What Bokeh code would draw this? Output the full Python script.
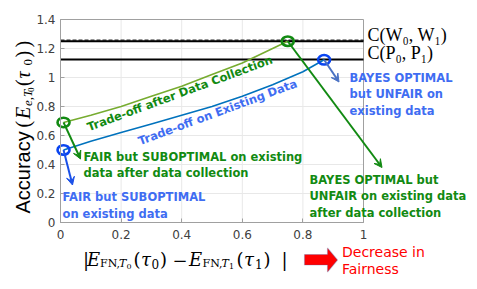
import math
from bokeh.plotting import figure
from bokeh.models import (Range1d, FixedTicker, Label, Arrow, VeeHead, PolyAnnotation)
from bokeh.embed import file_html
from bokeh.resources import INLINE

# ---- data ----
blue_x = [0.01, 0.1, 0.2, 0.3, 0.4, 0.5, 0.6, 0.7, 0.8, 0.87]
blue_y = [0.50, 0.56, 0.62, 0.68, 0.74, 0.80, 0.87, 0.95, 1.04, 1.122]
green_x = [0.01, 0.1, 0.2, 0.3, 0.4, 0.5, 0.6, 0.7, 0.75]
green_y = [0.69, 0.74, 0.80, 0.87, 0.94, 1.02, 1.10, 1.20, 1.25]
c_w = 1.25     # C(W0,W1)
c_p = 1.125    # C(P0,P1)
x_lim = [0, 1]
y_lim = [0, 1.4]
x_ticks = [0, 0.2, 0.4, 0.6, 0.8, 1]
y_ticks = [0, 0.2, 0.4, 0.6, 0.8, 1, 1.2, 1.4]

GREEN_LINE = "#77AC30"
BLUE_LINE = "#0072BD"
GREEN = "#128a12"
BLUE_TXT = "#3f6df2"
BLUE_MK = "#0a45f0"
GRID = "#e8e8e8"
BOX = "#a0a0a0"
SANS = "DejaVu Sans"
SERIF = "DejaVu Serif"
LSERIF = "Liberation Serif"

W, H = 470, 285
# frame covers the whole canvas; plot box sits at px 60..363 x 18..222
X0, XS = 60.0, 303.0
Y0, YS = 222.0, 145.0


def dx(px):
    return (px - X0) / XS


def dy(py):
    return (Y0 - py) / YS


p = figure(width=W, height=H, output_backend="svg", toolbar_location=None,
           x_range=Range1d(dx(0), dx(W)), y_range=Range1d(dy(H), dy(0)),
           min_border=0, min_border_left=0, min_border_right=0,
           min_border_top=0, min_border_bottom=0)
p.background_fill_color = "white"
p.border_fill_color = "white"
p.outline_line_color = None
p.xgrid.grid_line_color = None
p.ygrid.grid_line_color = None

# grid lines inside the box
p.segment(x0=x_ticks[1:-1], y0=[y_lim[0]] * (len(x_ticks) - 2),
          x1=x_ticks[1:-1], y1=[y_lim[1]] * (len(x_ticks) - 2),
          line_color=GRID, line_width=1)
p.segment(x0=[x_lim[0]] * (len(y_ticks) - 2), y0=y_ticks[1:-1],
          x1=[x_lim[1]] * (len(y_ticks) - 2), y1=y_ticks[1:-1],
          line_color=GRID, line_width=1)
# box
p.quad(left=[x_lim[0]], right=[x_lim[1]], bottom=[y_lim[0]], top=[y_lim[1]],
       fill_color=None, line_color=BOX, line_width=1)

for ax, ticks, lim in ((p.xaxis[0], x_ticks, x_lim), (p.yaxis[0], y_ticks, y_lim)):
    ax.fixed_location = 0
    ax.bounds = tuple(lim)
    ax.ticker = FixedTicker(ticks=ticks)
    ax.major_label_overrides = {0: "0", 1: "1"}
    ax.major_label_text_font = SANS
    ax.major_label_text_font_size = "12px"
    ax.major_label_text_color = "#404040"
    ax.axis_line_color = BOX
    ax.major_tick_line_color = BOX
    ax.major_tick_in = 4
    ax.major_tick_out = 0
    ax.minor_tick_line_color = None
p.xaxis[0].major_label_standoff = 7
p.yaxis[0].major_label_standoff = 5

# horizontal reference lines (within the box)
p.line(x_lim, [c_w, c_w], line_color="black", line_width=2)
p.line(x_lim, [c_w + 0.008, c_w + 0.008], line_color="black", line_width=1,
       line_dash="4 2")
p.line(x_lim, [c_p, c_p], line_color="black", line_width=2)

# curves
p.line(green_x, green_y, line_color=GREEN_LINE, line_width=1.6)
p.line(blue_x, blue_y, line_color=BLUE_LINE, line_width=1.6)


def arrow(x0, y0, px1, py1, color, w=2, size=8):
    p.add_layout(Arrow(x_start=x0, y_start=y0, x_end=dx(px1), y_end=dy(py1),
                       line_color=color, line_width=w,
                       end=VeeHead(size=size, fill_color=color, line_color=color)))


arrow(green_x[0], green_y[0], 80, 158.5, GREEN)
arrow(blue_x[0], blue_y[0], 72, 184.5, "#1a50e8")
arrow(blue_x[-1], blue_y[-1], 338.5, 81.5, "#4a72c4")
arrow(green_x[-1], green_y[-1], 381.5, 167, GREEN)

# hollow (horizontally stretched) circles
p.ellipse([green_x[0], green_x[-1]], [green_y[0], green_y[-1]], width=12, height=9.5,
          width_units="screen", height_units="screen",
          fill_color=None, line_color=GREEN, line_width=2.6)
p.ellipse([blue_x[0], blue_x[-1]], [blue_y[0], blue_y[-1]], width=12, height=9.5,
          width_units="screen", height_units="screen",
          fill_color=None, line_color=BLUE_MK, line_width=2.6)


def lab(px, py, text, color="black", size=11.5, font=SANS, style="bold",
        angle=0.0, align="left", baseline="middle"):
    p.add_layout(Label(x=dx(px), y=dy(py), text=text, text_color=color,
                       text_font=font, text_font_size=f"{size}px",
                       text_font_style=style, angle=angle, text_align=align,
                       text_baseline=baseline))


ang = math.radians(20.3)
lab(87, 127, "Trade-off after Data Collection", GREEN, angle=ang, baseline="alphabetic")
lab(138, 141, "Trade-off on Existing Data", BLUE_TXT, angle=ang, baseline="alphabetic")

lab(83, 156.5, "FAIR but SUBOPTIMAL on existing", GREEN)
lab(83, 172.5, "data after data collection", GREEN)
lab(62, 196.5, "FAIR but SUBOPTIMAL", BLUE_TXT)
lab(62, 213, "on existing data", BLUE_TXT)
lab(349, 77, "BAYES OPTIMAL", BLUE_TXT)
lab(349, 93.5, "but UNFAIR on", BLUE_TXT)
lab(349, 110, "existing data", BLUE_TXT)
lab(309, 179, "BAYES OPTIMAL but", GREEN)
lab(309, 195.5, "UNFAIR on existing data", GREEN)
lab(309, 212, "after data collection", GREEN)

lab(367, 34, "C(W₀, W₁)", "black", size=18, font=LSERIF, style="normal")
lab(367, 52.5, "C(P₀, P₁)", "black", size=18, font=LSERIF, style="normal")

# x-axis label: |E_{FN,T0}(tau0) - E_{FN,T1}(tau1)| built from pieces
XB = 259
x_pieces = [
    (82.5, 0, "|", 18, "normal"), (86.5, 0, "E", 18, "italic"),
    (99.5, 4, "FN,", 11, "normal"), (118.5, 4, "T", 11, "italic"), (126, 7, "0", 8, "normal"),
    (133, 0, "(", 18, "normal"), (140.5, 0, "τ", 18, "italic"), (151, 4, "0", 12, "normal"),
    (159.5, 0, ")", 18, "normal"), (172, 0, "−", 18, "normal"),
    (188.5, 0, "E", 18, "italic"),
    (202, 4, "FN,", 11, "normal"), (221, 4, "T", 11, "italic"), (228.5, 7, "1", 8, "normal"),
    (236, 0, "(", 18, "normal"), (243.5, 0, "τ", 18, "italic"), (254.5, 4, "1", 12, "normal"),
    (263, 0, ")", 18, "normal"), (281, 0, "|", 18, "normal"),
]
for px, off, t, sz, st in x_pieces:
    lab(px, XB + off, t, "black", sz, SERIF, st, baseline="alphabetic")

# y-axis label: Accuracy (E_{e,T0}(tau0)) built from rotated pieces
R = math.pi / 2
lab(22, 213, "Accuracy", "black", 20, "Liberation Sans", "normal", angle=R)
y_pieces = [
    (127, 0, "(", 20, "normal"), (118.5, 0, "E", 20, "italic"),
    (105.5, 5, "e,T", 13, "italic"), (91.5, 8, "0", 9, "normal"),
    (85.5, 0, "(", 20, "normal"), (78, 0, "τ", 20, "italic"), (65, 5, "0", 13, "normal"),
    (57, 0, ")", 20, "normal"), (47, 0, ")", 20, "normal"),
]
for py, off, t, sz, st in y_pieces:
    lab(22 + off, py, t, "black", sz, LSERIF, st, angle=R)

# "Decrease in Fairness" block arrow and text
arr_px = [304, 327, 327, 337, 327, 327, 304]
arr_py = [254, 254, 247.5, 259.5, 271.5, 264.5, 264.5]
p.add_layout(PolyAnnotation(xs=[dx(v) for v in arr_px], ys=[dy(v) for v in arr_py],
                            fill_color="#ff0000", fill_alpha=1.0,
                            line_color="#4a66a8", line_width=1.2))
lab(341.5, 251.5, "Decrease in", "#ff0000", 14, SANS, "normal")
lab(341.5, 268.5, "Fairness", "#ff0000", 14, SANS, "normal")

open("out.html", "w").write(file_html(p, INLINE))
